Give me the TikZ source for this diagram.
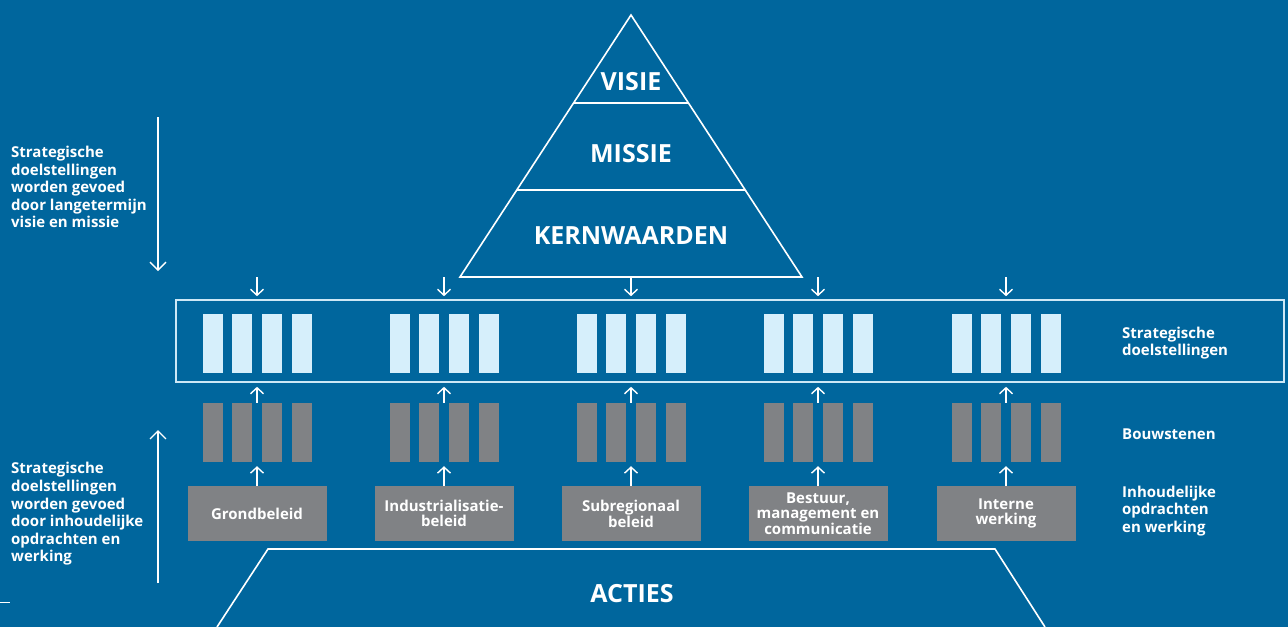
\documentclass[tikz,border=0pt]{standalone}
\usepackage{fontspec}
\setmainfont{Open Sans}
\usepackage{xcolor}
\usetikzlibrary{arrows.meta, positioning}

\definecolor{bg}{HTML}{00669D}
\definecolor{barlight}{HTML}{D6EFFB}
\definecolor{bargray}{HTML}{808285}
\definecolor{framecol}{HTML}{CDE8F6}

\tikzset{
  lbl/.style={text=white, font=\bfseries\fontsize{15}{17.6}\selectfont, align=left, inner sep=0pt},
  big/.style={text=white, font=\bfseries\fontsize{25}{30}\selectfont, inner sep=0pt},
  taskbox/.style={fill=bargray, minimum width=139pt, minimum height=55pt, text=white,
    font=\bfseries\fontsize{15}{14.5}\selectfont, align=center, inner sep=0pt},
  group/.style={minimum width=110pt, minimum height=59pt, inner sep=0pt},
  arr/.style={white, line width=1.4pt, -{Straight Barb[length=6pt, width=13pt]}},
  longarr/.style={arr, -{Straight Barb[length=8pt, width=16pt]}},
  outline/.style={white, line width=1.6pt}
}

\begin{document}
\begin{tikzpicture}[x=1pt, y=-1pt]
                        \fill[bg] (0,0) rectangle (1288,627);
                        \useasboundingbox (0,0) rectangle (1288,627);

                        \coordinate (apex) at (631,15);
                        \coordinate (bl) at (460,277);
                        \coordinate (br) at (802,277);
                        \draw[outline, line join=miter] (apex) -- (br) -- (bl) -- cycle;
                        \draw[outline] (574,103) -- (688,103) (517,190) -- (745,190);
                        \node[big] (visie) at (631,82) {VISIE};
                        \node[big] (missie) at (631,154) {MISSIE};
                        \node[big] (kern) at (631,236) {KERNWAARDEN};

                        \node[draw=framecol, line width=1.6pt, minimum width=1108pt, minimum height=82pt, inner sep=0pt] (frame) at (730,341) {};

                        \foreach \i/\x/\txt in {1/257/{Grondbeleid}, 2/444/{Industrialisatie-\\beleid}, 3/631/{Subregionaal\\beleid}, 4/818/{Bestuur,\\management en\\communicatie}, 5/1006/{Interne\\werking}} {
                            \node[group] (s\i) at (\x,343.5) {};
                            \node[group] (b\i) at (\x,432.5) {};
                            \node[taskbox] (t\i) at (\x,513.5) {\txt};
                            \foreach \d in {-44.5,-14.8,14.8,44.5} {
                                \fill[barlight] (\x+\d-10,314) rectangle (\x+\d+10,373);
                                \fill[bargray] (\x+\d-10,403) rectangle (\x+\d+10,462);
                            }
                            \coordinate (in\i) at (\x,277);
                            \draw[arr, shorten >=3pt] (in\i) -- (in\i |- frame.north);
                            \draw[arr, shorten >=4pt] (b\i.north) -- (b\i.north |- frame.south);
                            \draw[arr, shorten >=4pt] (t\i.north) -- (b\i.south);
                        }

                        \node[lbl, anchor=west] (sd) at (1122,343) {Strategische\\doelstellingen};
                        \node[lbl, anchor=west] (bouw) at (1122,434) {Bouwstenen};
                        \node[lbl, anchor=west] (inh) at (1122,511) {Inhoudelijke\\opdrachten\\en werking};

                        \node[lbl, anchor=west] (top) at (11,187) {Strategische\\doelstellingen\\worden gevoed\\door langetermijn\\visie en missie};
                        \node[lbl, anchor=west] (bottom) at (11,514) {Strategische\\doelstellingen\\worden gevoed\\door inhoudelijke\\opdrachten en\\werking};
                        \coordinate (down1) at (158,117);
                        \coordinate (down2) at (158,271);
                        \coordinate (up1) at (158,583);
                        \coordinate (up2) at (158,430);
                        \draw[longarr] (down1) -- (down2);
                        \draw[longarr] (up1) -- (up2);

                        \draw[outline] (217,627) -- (268,549) -- (995,549) -- (1045,627);
                        \node[big] (acties) at (632,594) {ACTIES};
                        \draw[white, line width=1pt] (0,602) -- (10,602);
                    \end{tikzpicture}
\end{document}
